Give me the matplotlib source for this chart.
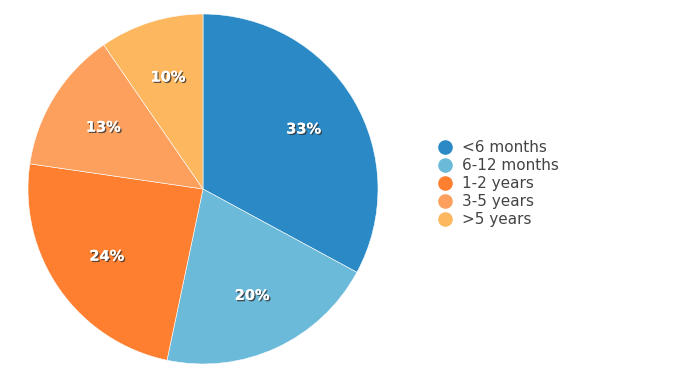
import matplotlib.pyplot as plt
import matplotlib.patheffects as pe
from matplotlib.lines import Line2D

labels = ["<6 months", "6-12 months", "1-2 years", "3-5 years", ">5 years"]
values = [32.9, 20.4, 24.0, 13.1, 9.6]
colors = ["#2b8ac6", "#6cbad9", "#fd7f2f", "#fda05e", "#fdb85f"]

W, H = 675, 381
fig = plt.figure(figsize=(W / 100, H / 100), dpi=100)

cx, cy, r = 203, 189, 175
ax = fig.add_axes([(cx - r) / W, (H - cy - r) / H, 2 * r / W, 2 * r / H])
wedges, texts, autotexts = ax.pie(
    values, colors=colors, startangle=90, counterclock=False,
    autopct=lambda p: f"{p:.0f}%", pctdistance=0.67,
    wedgeprops=dict(edgecolor="white", linewidth=0.4),
)
ax.set_xlim(-1, 1)
ax.set_ylim(-1, 1)
ax.set_aspect("equal")
ax.axis("off")

for t in autotexts:
    t.set_color("white")
    t.set_fontsize(10.5)
    t.set_fontweight("bold")
    t.set_path_effects([
        pe.withSimplePatchShadow(offset=(1, -1), shadow_rgbFace="#333333", alpha=0.8),
        pe.Normal(),
    ])

handles = [Line2D([], [], marker="o", linestyle="", markersize=9.5,
                  markerfacecolor=c, markeredgecolor=c) for c in colors]
leg = fig.legend(handles, labels, loc="upper left",
                 bbox_to_anchor=(436 / W, 1 - 140 / H),
                 frameon=False, fontsize=11, handletextpad=0.5,
                 labelspacing=0.2, handlelength=1.2, borderaxespad=0,
                 borderpad=0)
for t in leg.get_texts():
    t.set_color("#444444")

fig.savefig("out.png", dpi=100, facecolor="white")
